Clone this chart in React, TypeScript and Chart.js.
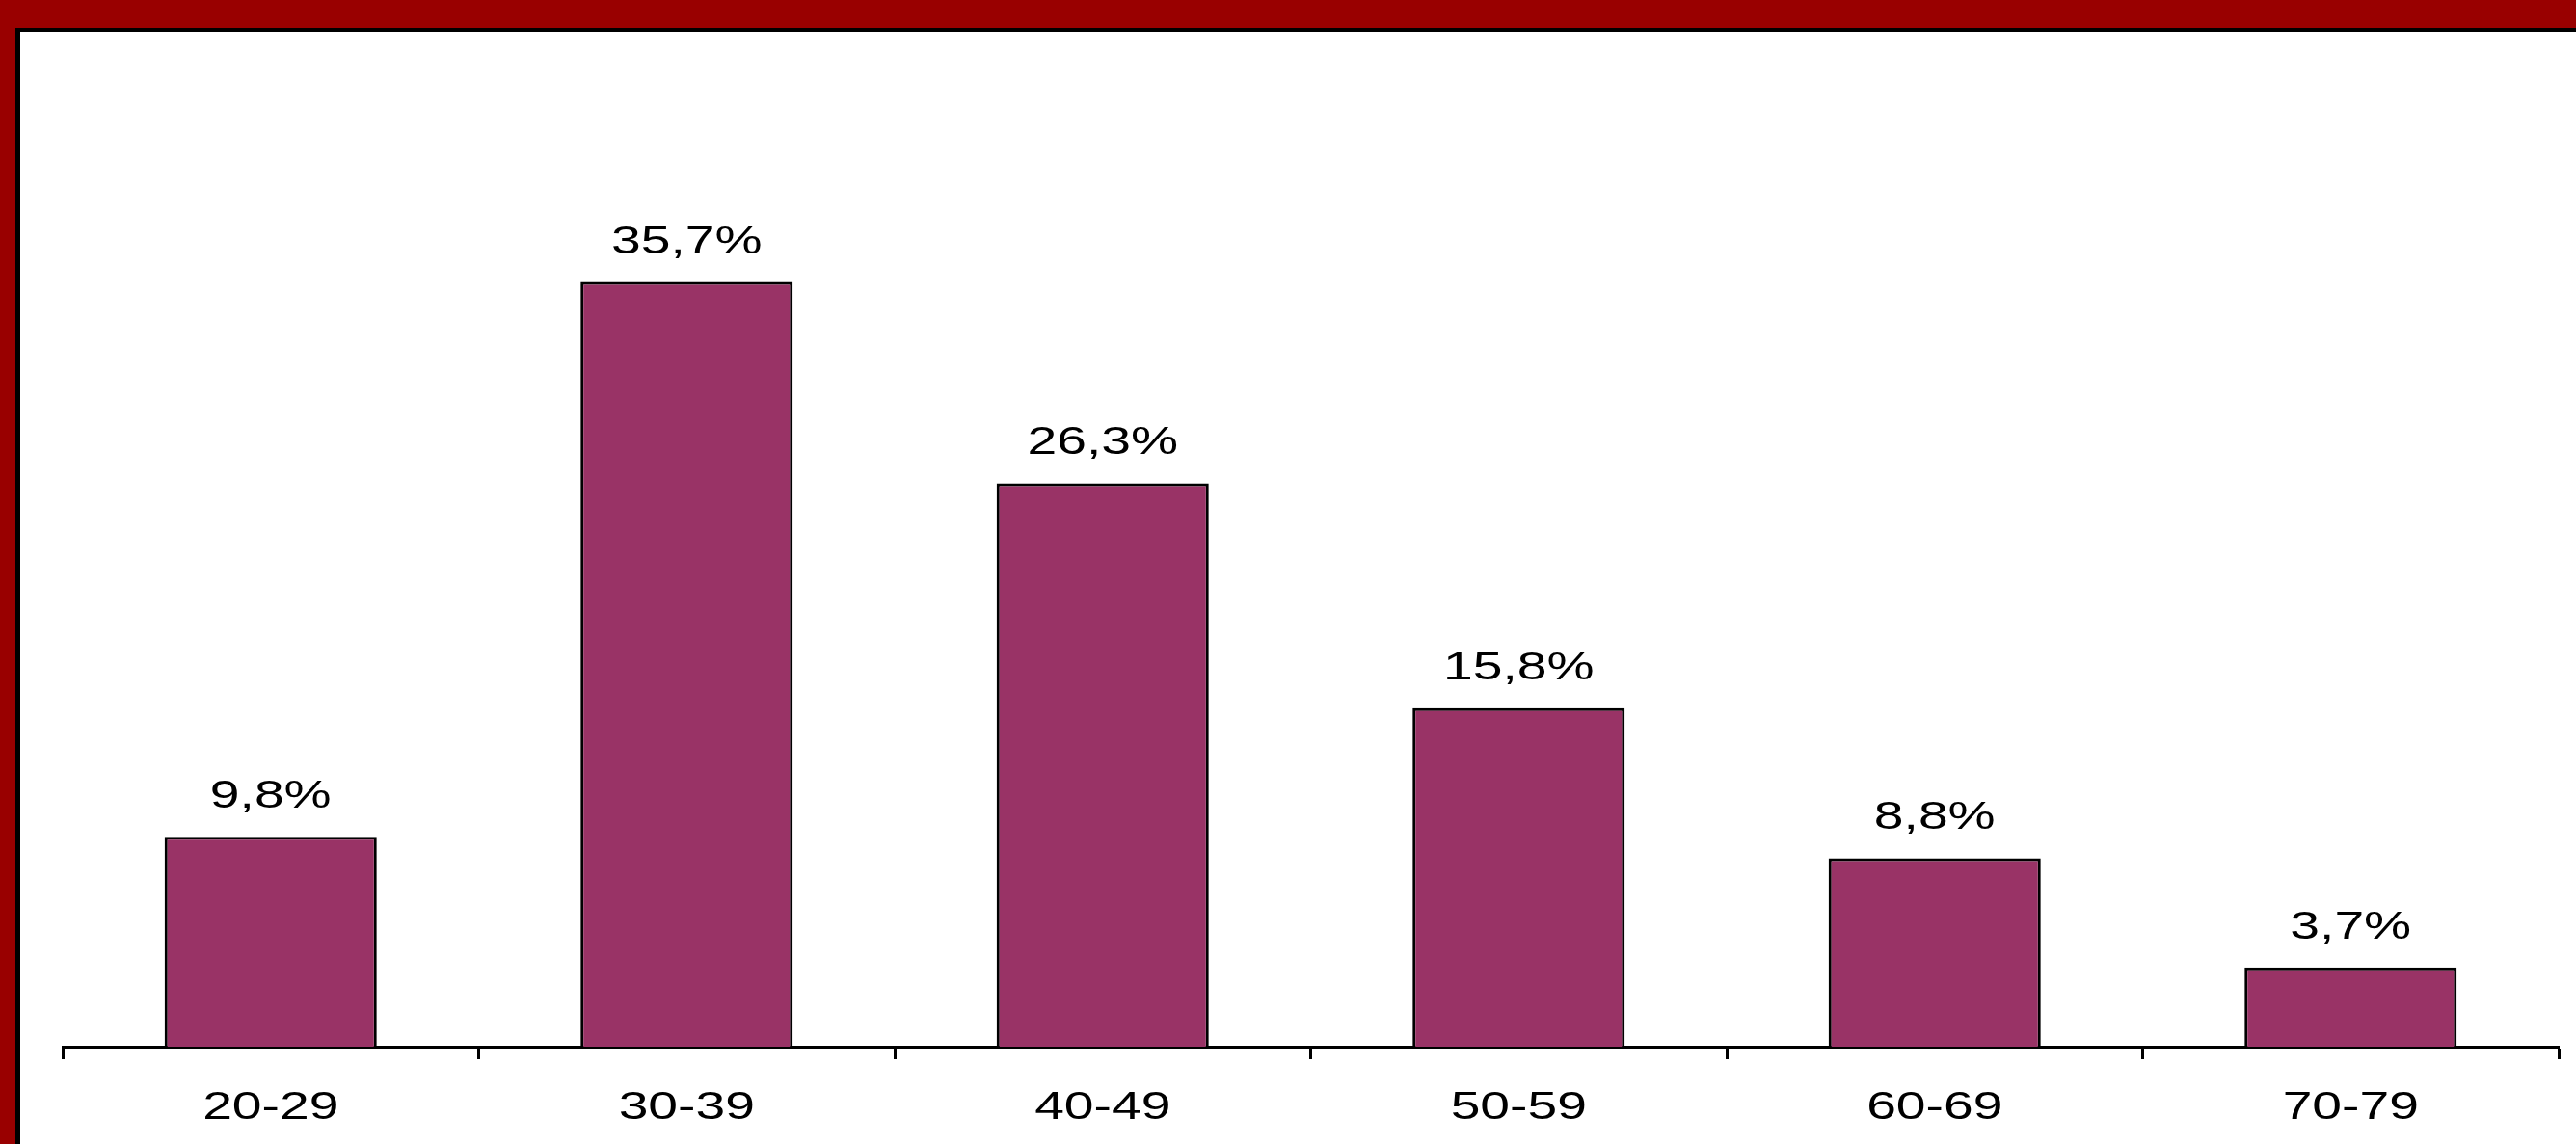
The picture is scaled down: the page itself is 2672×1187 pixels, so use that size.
import React, { useEffect, useRef } from "react";
import { Chart, registerables } from "chart.js";

Chart.register(...registerables);

const categories = ["20-29", "30-39", "40-49", "50-59", "60-69", "70-79"];
const shares = [9.8, 35.7, 26.3, 15.8, 8.8, 3.7];

const W = 2651;
const H = 1154;
const FONT = "40px 'Liberation Sans', Arial, sans-serif";
const STRETCH = 1.38;

function drawStretched(ctx: any, txt: string, x: number, y: number) {
  ctx.save();
  ctx.translate(x, y);
  ctx.scale(STRETCH, 1);
  ctx.fillText(txt, 0, 0);
  ctx.restore();
}

const textLabels = {
  id: "textLabels",
  afterDraw(chart: any) {
    const ctx = chart.ctx;
    const meta = chart.getDatasetMeta(0);
    const xScale = chart.scales.x;
    ctx.save();
    ctx.fillStyle = "#000000";
    ctx.font = FONT;
    ctx.textAlign = "center";
    ctx.textBaseline = "alphabetic";
    meta.data.forEach((bar: any, i: number) => {
      const v = chart.data.datasets[0].data[i] as number;
      const txt = v.toFixed(1).replace(".", ",") + "%";
      drawStretched(ctx, txt, bar.x, bar.y - 30);
    });
    const axisY = chart.chartArea.bottom;
    (chart.data.labels as string[]).forEach((lab: string, i: number) => {
      drawStretched(ctx, lab, xScale.getPixelForValue(i), axisY + 75);
    });
    ctx.restore();
  },
};

export default function App() {
  const ref = useRef<HTMLCanvasElement>(null);
  useEffect(() => {
    if (!ref.current) return;
    const chart = new Chart(ref.current, {
      type: "bar",
      data: {
        labels: categories,
        datasets: [
          {
            data: shares,
            backgroundColor: "#993366",
            borderColor: "#000000",
            borderWidth: 3,
            categoryPercentage: 1,
            barPercentage: 0.51,
          },
        ],
      },
      options: {
        responsive: false,
        animation: false,
        layout: { padding: { left: 44, right: 18, top: 164, bottom: 20 } },
        plugins: { legend: { display: false }, tooltip: { enabled: false } },
        scales: {
          x: {
            offset: true,
            grid: {
              offset: true,
              drawOnChartArea: false,
              drawTicks: true,
              tickLength: 13,
              tickWidth: 3,
              tickColor: "#000000",
            },
            border: { display: true, color: "#000000", width: 3 },
            ticks: {
              color: "rgba(0,0,0,0)",
              padding: 10,
              font: { family: "'Liberation Sans', Arial, sans-serif", size: 40 },
            },
          },
          y: {
            display: false,
            min: 0,
            max: 40,
          },
        },
      },
      plugins: [textLabels],
    });
    return () => chart.destroy();
  }, []);

  return (
    <div
      style={{
        position: "fixed",
        left: 0,
        top: 0,
        width: 2672,
        height: 1187,
        background: "#990000",
        overflow: "hidden",
      }}
    >
      <div
        style={{
          position: "absolute",
          left: 16,
          top: 29,
          right: 0,
          bottom: 0,
          background: "#ffffff",
          borderLeft: "5px solid #000000",
          borderTop: "4px solid #000000",
        }}
      >
        <canvas ref={ref} width={W} height={H} style={{ display: "block" }} />
      </div>
    </div>
  );
}
